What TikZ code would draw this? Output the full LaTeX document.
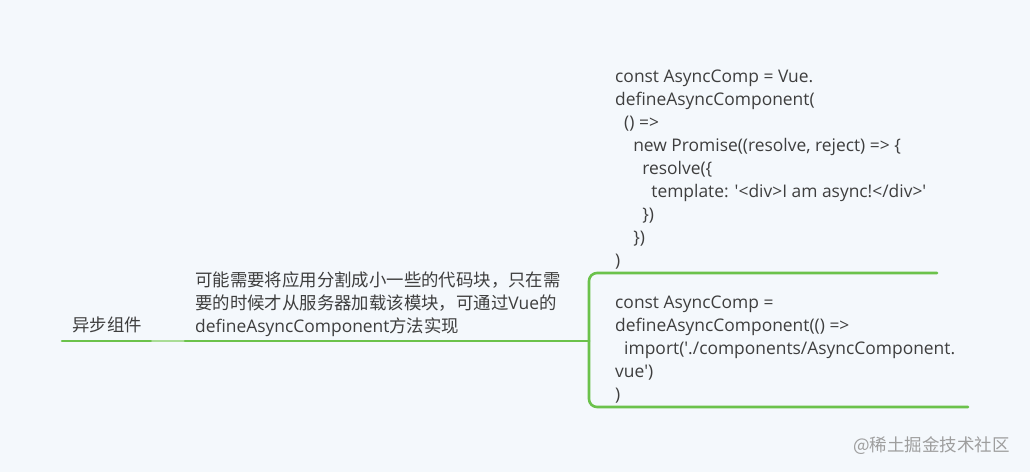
\documentclass[tikz,border=0pt]{standalone}
\usepackage{fontspec}
\setmainfont{Open Sans}
\newfontfamily\cjk{Noto Sans CJK SC}
\usetikzlibrary{positioning}
\definecolor{paper}{HTML}{F4F8FC}
\definecolor{lime}{HTML}{6BC24B}
\definecolor{palelime}{HTML}{A9DC96}
\definecolor{ink}{HTML}{3E3E3E}
\newcommand\codeindent[1]{\hspace*{#1\fontdimen2\font}}
\tikzset{
  every picture/.style={line join=round, line cap=round, x=1pt, y=-1pt},
  txt/.style={inner sep=0pt, anchor=base west, align=left, text=ink,
    font=\fontsize{17.4}{22.9}\selectfont},
  wm/.style={inner sep=0pt, anchor=base west, text=black!38,
    font=\fontsize{17.5}{20}\selectfont\cjk},
  topic/.style={draw=lime, line width=2.6pt},
  link/.style={draw=palelime, line width=1.6pt},
}

\begin{document}
\begin{tikzpicture}
\fill[paper] (0,0) rectangle (1030,472);
\node[txt] (root) at (72,331) {{\cjk 异步组件}};
\node[txt] (desc) at (195,332) {{\cjk 可能需要将应用分割成小一些的代码块，只在需}\\
{\cjk 要的时候才从服务器加载该模块，可通过}Vue{\cjk 的}\\
defineAsyncComponent{\cjk 方法实现}};
\node[txt] (codeA) at (615,266) {const AsyncComp = Vue.\\
defineAsyncComponent(\\
\codeindent{2}() =>\\
\codeindent{4}new Promise((resolve, reject) => \{\\
\codeindent{6}resolve(\{\\
\codeindent{8}template: \textquotesingle<div>I am async!</div>\textquotesingle\\
\codeindent{6}\})\\
\codeindent{4}\})\\
)};
\node[txt] (codeB) at (615,400) {const AsyncComp =\\
defineAsyncComponent(() =>\\
\codeindent{2}import(\textquotesingle./components/AsyncComponent.\\
vue\textquotesingle)\\
)};
\node[wm] (credit) at (853,451) {@稀土掘金技术社区};
\coordinate (rootL) at (62,341);
\coordinate (rootR) at (152,341);
\coordinate (descL) at (185,341);
\coordinate (descR) at (585,341);
\coordinate (fork) at (589,341);
\coordinate (codeAR) at (937,273);
\coordinate (codeBR) at (968,407);
\draw[topic] (rootL) -- (rootR);
\draw[link] (rootR) -- (descL);
\draw[topic] (descL) -- (descR) -- (fork);
\draw[topic, rounded corners=8pt] (fork) |- (codeAR);
\draw[topic, rounded corners=8pt] (fork) |- (codeBR);
\end{tikzpicture}
\end{document}
